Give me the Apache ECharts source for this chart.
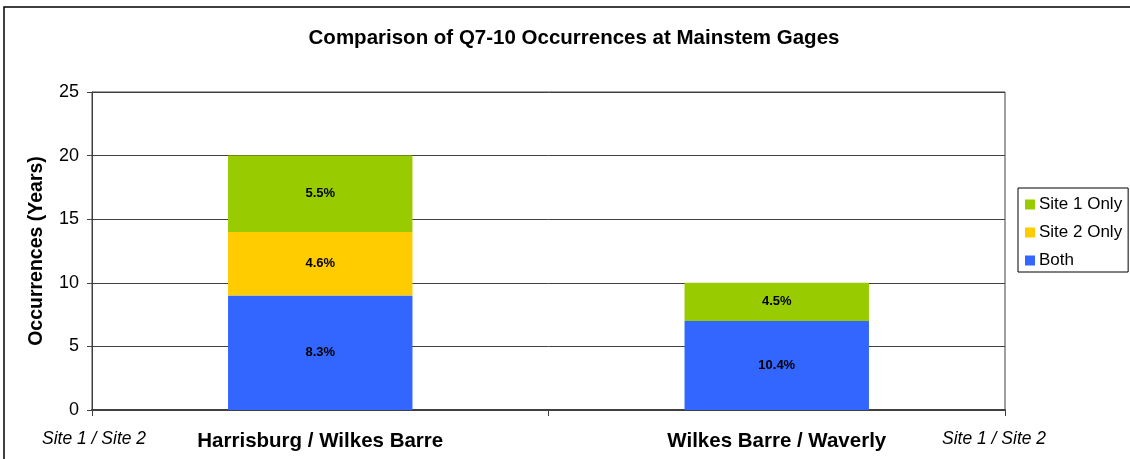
<!DOCTYPE html>
<html>
<head>
<meta charset="utf-8">
<script src="https://cdn.jsdelivr.net/npm/echarts@6/dist/echarts.min.js"></script>
<style>
  html, body { margin: 0; padding: 0; background: #fff; }
  #chart { width: 1130px; height: 459px; }
</style>
</head>
<body>
<div id="chart"></div>
<script>
// data
const categories = ['Harrisburg / Wilkes Barre', 'Wilkes Barre / Waverly']
const both = [9, 7]
const site2Only = [5, 0]
const site1Only = [6, 3]
const bothPct = ['8.3%', '10.4%']
const site2Pct = ['4.6%', '']
const site1Pct = ['5.5%', '4.5%']
const yTicks = [0, 5, 10, 15, 20, 25]

const font = '"Liberation Sans", Arial, sans-serif'
const axisColor = '#404040'

function barLabel (texts) {
  return {
    show: true,
    position: 'inside',
    color: '#000',
    fontFamily: font,
    fontWeight: 'bold',
    fontSize: 13,
    formatter: p => texts[p.dataIndex]
  }
}

const chart = echarts.init(document.getElementById('chart'))
chart.setOption({
  animation: false,
  backgroundColor: '#fff',
  title: {
    text: 'Comparison of Q7-10 Occurrences at Mainstem Gages',
    left: 569,
    top: 23,
    textAlign: 'center',
    textStyle: { fontFamily: font, fontWeight: 'bold', fontSize: 20.5, color: '#000' }
  },
  legend: {
    orient: 'vertical',
    left: 1018,
    top: 188,
    width: 110,
    data: ['Site 1 Only', 'Site 2 Only', 'Both'],
    itemWidth: 10,
    itemHeight: 10,
    itemGap: 11,
    padding: [8, 6, 3, 7],
    borderColor: '#000',
    borderWidth: 1,
    icon: 'rect',
    textStyle: { fontFamily: font, fontSize: 17, color: '#000', padding: [0, 0, 0, -1] }
  },
  grid: {
    left: 92,
    right: 125,
    top: 92,
    bottom: 49,
    show: true,
    borderColor: axisColor,
    borderWidth: 1
  },
  xAxis: {
    type: 'category',
    data: categories,
    axisLine: { lineStyle: { color: axisColor, width: 2 } },
    axisTick: { show: true, length: 6, lineStyle: { color: axisColor } },
    axisLabel: {
      margin: 21,
      fontFamily: font,
      fontWeight: 'bold',
      fontSize: 20.5,
      color: '#000'
    }
  },
  yAxis: {
    type: 'value',
    min: yTicks[0],
    max: yTicks[yTicks.length - 1],
    interval: 5,
    name: 'Occurrences (Years)',
    nameLocation: 'middle',
    nameGap: 45,
    nameTextStyle: { fontFamily: font, fontWeight: 'bold', fontSize: 19.5, color: '#000' },
    axisLine: { show: true, lineStyle: { color: axisColor } },
    axisTick: { show: true, length: 5, lineStyle: { color: axisColor } },
    axisLabel: { fontFamily: font, fontSize: 18, color: '#000', margin: 13 },
    splitLine: { lineStyle: { color: axisColor, width: 1 } }
  },
  series: [
    {
      name: 'Both',
      type: 'bar',
      stack: 'occ',
      barWidth: '40.4%',
      data: both,
      itemStyle: { color: '#3366FF' },
      label: barLabel(bothPct)
    },
    {
      name: 'Site 2 Only',
      type: 'bar',
      stack: 'occ',
      barWidth: '40.4%',
      data: site2Only,
      itemStyle: { color: '#FFCC00' },
      label: barLabel(site2Pct)
    },
    {
      name: 'Site 1 Only',
      type: 'bar',
      stack: 'occ',
      barWidth: '40.4%',
      data: site1Only,
      itemStyle: { color: '#99CC00' },
      label: barLabel(site1Pct)
    }
  ],
  graphic: [
    {
      type: 'rect',
      shape: { x: 4, y: 7, width: 1200, height: 500 },
      style: { fill: 'none', stroke: '#000', lineWidth: 1.5 },
      silent: true
    },
    {
      type: 'text',
      x: 42,
      y: 430,
      style: { text: 'Site 1 / Site 2', font: 'italic 17.5px ' + font, fill: '#000' }
    },
    {
      type: 'text',
      x: 942,
      y: 430,
      style: { text: 'Site 1 / Site 2', font: 'italic 17.5px ' + font, fill: '#000' }
    }
  ]
})
</script>
</body>
</html>
